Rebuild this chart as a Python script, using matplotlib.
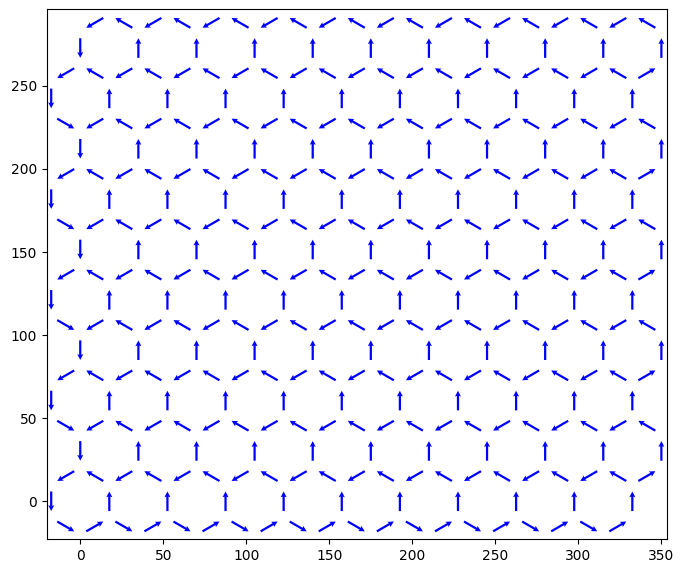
import numpy as np
import matplotlib
matplotlib.use("Agg")
import matplotlib.pyplot as plt

# honeycomb lattice: distance between parallel vertical bonds
spacing = 35.0
bond = spacing / np.sqrt(3)
row_step = 1.5 * bond
arrow_len = 11.8

# spin direction on every bond, one string per row (left to right)
# vertical bonds, rows 0..9 (even rows start at x=-17.5, odd rows at x=0)
vertical_rows = [
    "↓↑↑↑↑↑↑↑↑↑↑",
    "↓↑↑↑↑↑↑↑↑↑↑",
    "↓↑↑↑↑↑↑↑↑↑↑",
    "↓↑↑↑↑↑↑↑↑↑↑",
    "↓↑↑↑↑↑↑↑↑↑↑",
    "↓↑↑↑↑↑↑↑↑↑↑",
    "↓↑↑↑↑↑↑↑↑↑↑",
    "↓↑↑↑↑↑↑↑↑↑↑",
    "↓↑↑↑↑↑↑↑↑↑↑",
    "↓↑↑↑↑↑↑↑↑↑↑",
]

# diagonal bonds, from the bottom edge (row -1/0) up to the top edge (row 9/10)
diag_bottom = "↘↗↘↗↘↗↘↗↘↗↘↗↘↗↘↗↘↗↘↗"
diag_even_odd = "↙↖↙↖↙↖↙↖↙↖↙↖↙↖↙↖↙↖↙↖↗"
diag_odd_even = "↘↙↖↙↖↙↖↙↖↙↖↙↖↙↖↙↖↙↖↙↖"
diag_top = "↙↖↙↖↙↖↙↖↙↖↙↖↙↖↙↖↙↖↙↖"

angles = {"↑": 90, "↓": 270, "↗": 30, "↖": 150, "↙": 210, "↘": 330}

X, Y, U, V = [], [], [], []


def add(x, y, ch):
    a = np.deg2rad(angles[ch])
    X.append(x)
    Y.append(y)
    U.append(arrow_len * np.cos(a))
    V.append(arrow_len * np.sin(a))


for j, row in enumerate(vertical_rows):
    x0 = -spacing / 2 if j % 2 == 0 else 0.0
    for i, ch in enumerate(row):
        add(x0 + i * spacing, j * row_step, ch)

diag_rows = [(-0.5, diag_bottom, 0)]
for j in range(len(vertical_rows) - 1):
    diag_rows.append((j + 0.5, diag_even_odd if j % 2 == 0 else diag_odd_even, 0))
diag_rows.append((len(vertical_rows) - 0.5, diag_top, 1))

for yj, row, k0 in diag_rows:
    for k, ch in enumerate(row):
        add((k + k0 - 0.5) * spacing / 2, yj * row_step, ch)

fig = plt.figure(figsize=(6.84, 5.73), dpi=100)
ax = fig.add_axes([0.0683, 0.0588, 0.9064, 0.9255])
ax.quiver(X, Y, U, V, color="blue", angles="xy", scale_units="xy", scale=1,
          pivot="mid", width=0.0036, headwidth=2.7, headlength=2.6,
          headaxislength=2.3)
ax.set_xlim(-20.2, 353.2)
ax.set_ylim(-22.9, 296.3)

plt.savefig("out.png")
